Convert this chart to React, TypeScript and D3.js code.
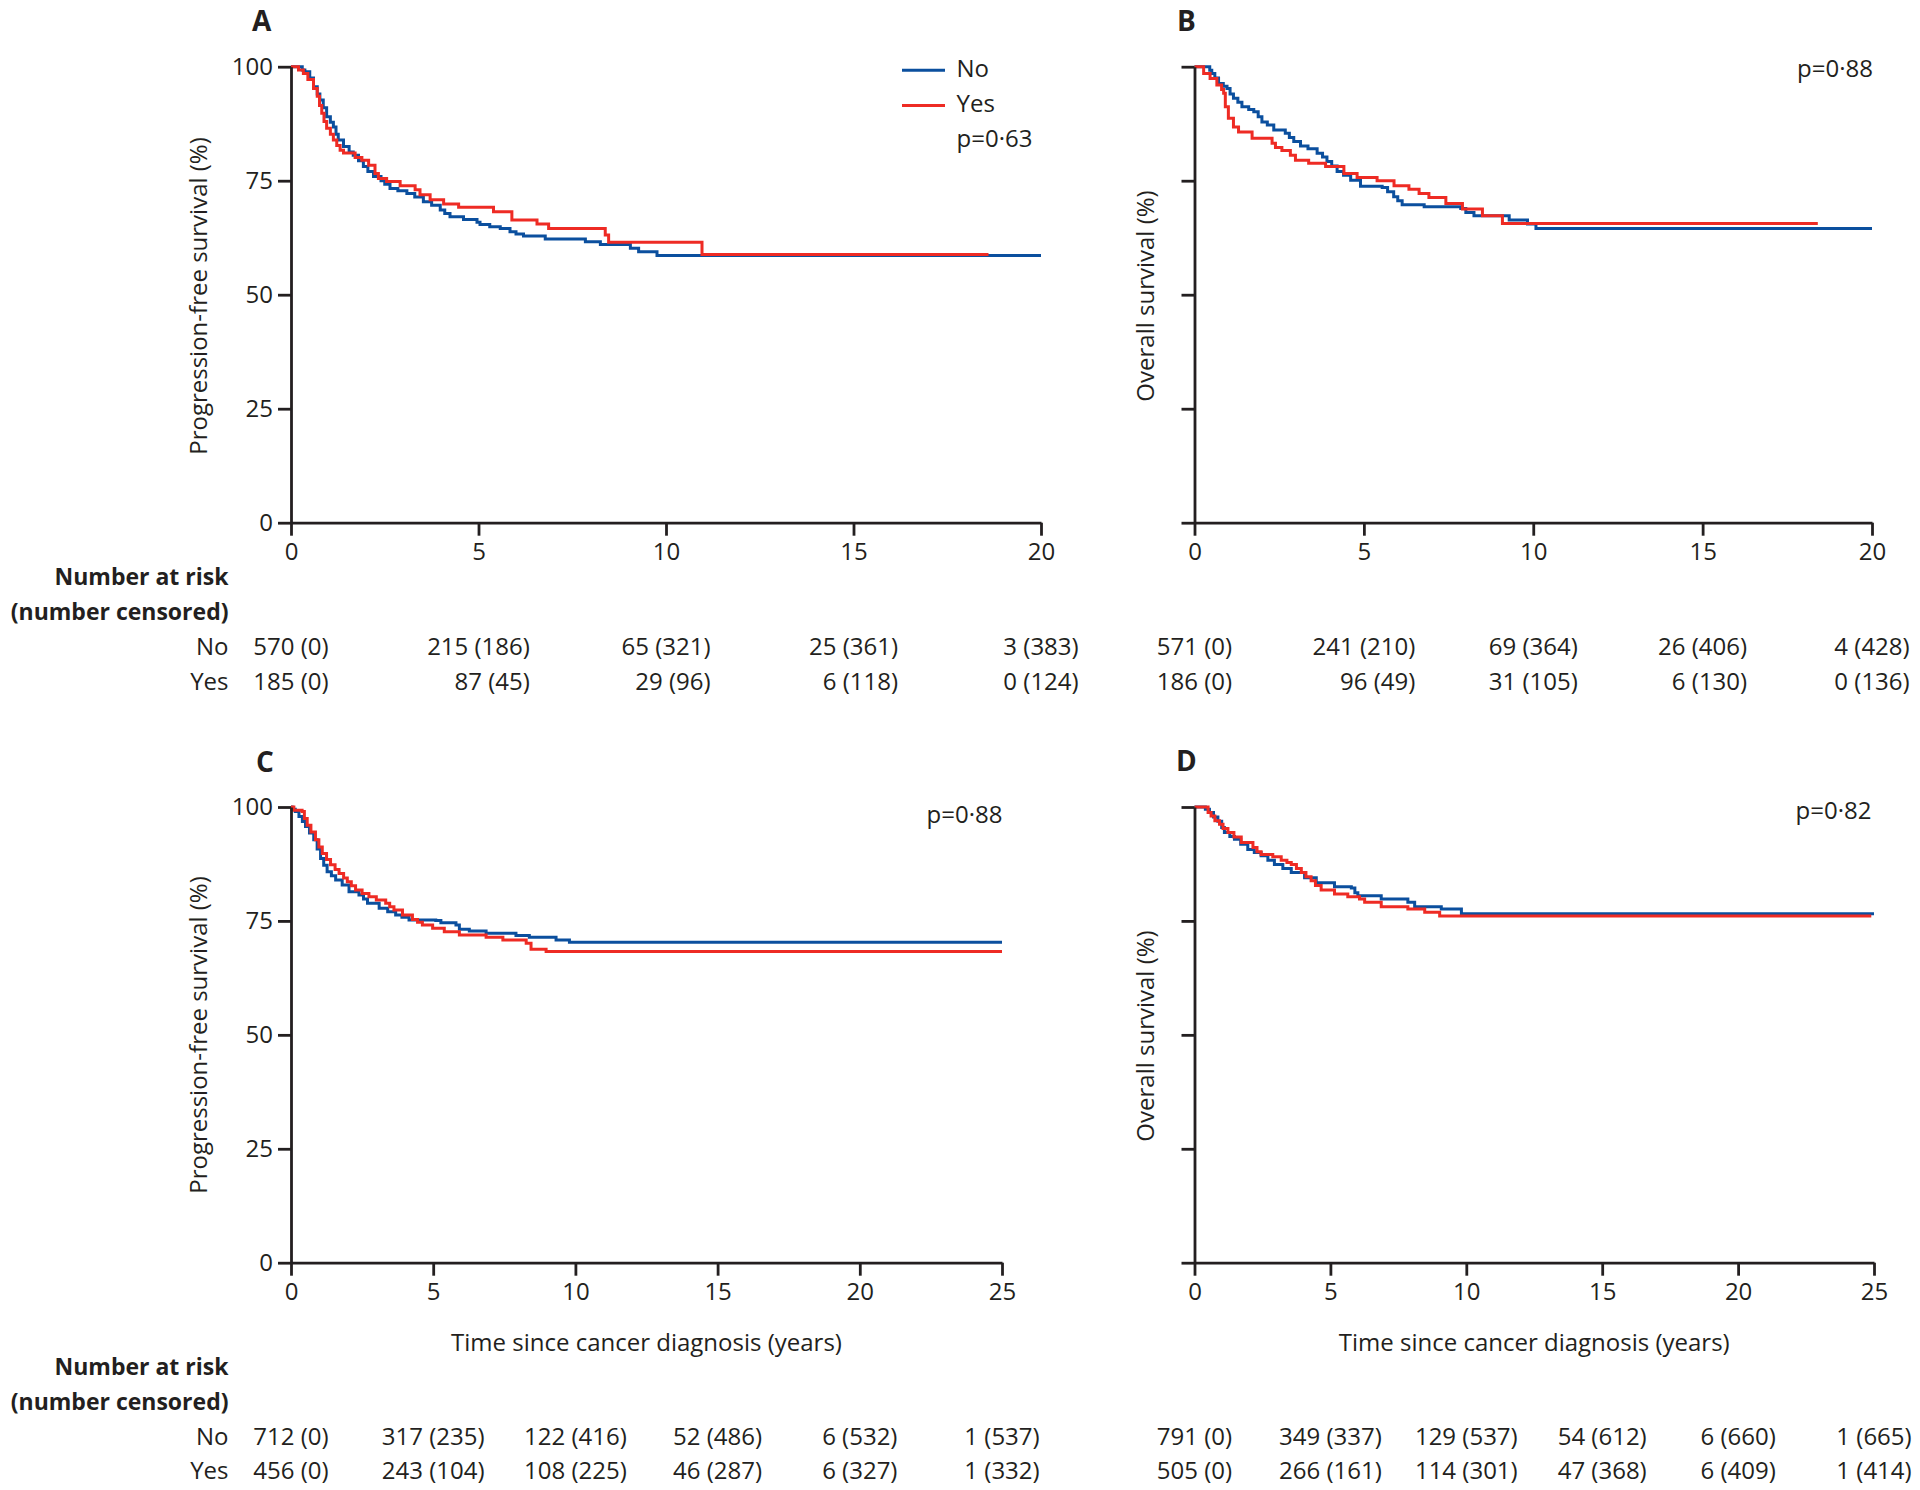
import React, { useEffect, useRef } from 'react';
import * as d3 from 'd3';

// ---------- data ----------
const GROUPS = ['No', 'Yes'];
const COLORS: Record<string, string> = { No: '#0b4f9e', Yes: '#ee2b24' };
const Y_TICKS = [0, 25, 50, 75, 100];
const X_TICKS_20 = [0, 5, 10, 15, 20];
const X_TICKS_25 = [0, 5, 10, 15, 20, 25];

// Kaplan-Meier curves: [years, survival %]
const A_NO = [[0,100],[0.15,100],[0.3,99.3],[0.37,98.9],[0.5,97.5],[0.6,95.6],[0.7,94.0],[0.77,92.7],[0.86,91],[0.95,89.0],[1.05,87.8],[1.13,86.8],[1.2,85.2],[1.26,83.9],[1.4,82.5],[1.55,81.3],[1.66,80.6],[1.8,79.4],[1.93,78.1],[2.05,77.0],[2.2,75.9],[2.4,75.0],[2.5,74.2],[2.64,73.3],[2.85,72.8],[3.09,72.2],[3.3,71.4],[3.53,70.4],[3.75,69.6],[3.98,68.6],[4.1,67.8],[4.24,67.1],[4.6,66.5],[4.96,65.9],[5.04,65.4],[5.3,64.9],[5.58,64.5],[5.84,63.8],[6.0,63.3],[6.2,62.9],[6.78,62.2],[7.85,61.6],[8.25,61.0],[9.05,60.2],[9.27,59.4],[9.76,58.6],[20,58.6]];
const A_YES = [[0,100],[0.1,100],[0.2,99.3],[0.33,98.5],[0.45,97.2],[0.6,95.2],[0.7,93.5],[0.76,91.5],[0.82,89.8],[0.88,88],[0.95,86.5],[1.05,85.2],[1.13,83.9],[1.22,82.7],[1.31,81.7],[1.4,81.1],[1.71,80.1],[1.89,79.5],[2.07,78.4],[2.24,76.6],[2.33,75.5],[2.55,74.8],[2.91,73.9],[3.31,73.0],[3.44,71.9],[3.71,70.8],[4.07,69.9],[4.47,69.2],[5.4,68.2],[5.89,66.4],[6.56,65.5],[6.87,64.5],[8.38,63.1],[8.47,61.5],[10.96,58.8],[18.6,58.8]];
const B_NO = [[0,100],[0.35,100],[0.45,99.2],[0.51,98.5],[0.6,97.5],[0.71,96.3],[0.85,95.7],[0.96,95.2],[1.05,94.0],[1.15,93.1],[1.28,92.2],[1.4,91.2],[1.6,90.6],[1.75,90.1],[1.88,89.0],[1.99,87.9],[2.15,87.2],[2.34,86.1],[2.68,85.4],[2.8,84.5],[2.93,83.6],[3.13,82.6],[3.35,82.0],[3.62,81.0],[3.78,80.2],[3.91,79.2],[4.05,78.2],[4.21,77.0],[4.4,76.2],[4.61,75.1],[4.9,73.8],[5.54,73.5],[5.7,72.6],[5.88,71.5],[6.0,70.6],[6.13,69.7],[6.78,69.3],[7.86,68.9],[8.01,68.0],[8.25,67.3],[9.29,66.4],[9.83,65.5],[10.08,64.5],[20,64.5]];
const B_YES = [[0,100],[0.2,100],[0.27,98.5],[0.46,97.4],[0.66,96.0],[0.8,95.0],[0.86,94.2],[0.91,91.2],[1.0,88.7],[1.15,86.8],[1.3,85.7],[1.7,84.3],[2.29,83.2],[2.39,82.3],[2.58,81.6],[2.83,80.6],[2.98,79.5],[3.37,78.8],[3.87,78.1],[4.41,76.6],[4.8,75.7],[5.39,75.0],[5.89,73.9],[6.33,73.1],[6.63,72.2],[6.92,71.3],[7.42,70.0],[7.91,68.8],[8.5,67.3],[9.09,65.6],[18.4,65.6]];
const C_NO = [[0,100],[0.04,99.5],[0.15,99],[0.28,97.9],[0.4,96.8],[0.51,95.7],[0.65,94.3],[0.8,92.8],[0.92,90.8],[1.04,88.7],[1.15,87.2],[1.27,85.8],[1.42,84.9],[1.57,84.0],[1.8,82.9],[2.04,81.4],[2.39,80.7],[2.55,79.8],[2.69,78.9],[3.1,77.8],[3.4,77.0],[3.68,76.3],[3.9,75.8],[4.15,75.2],[5.09,75.1],[5.27,74.6],[5.8,74.1],[5.92,73.2],[6.27,72.8],[6.86,72.3],[7.91,71.8],[8.38,71.4],[9.32,70.8],[9.79,70.3],[25,70.3]];
const C_YES = [[0,100],[0.1,99.3],[0.39,99.0],[0.47,97.5],[0.57,96.0],[0.7,94.5],[0.86,92.8],[0.98,91.2],[1.1,89.8],[1.25,88.5],[1.39,87.3],[1.55,86.3],[1.69,85.4],[1.85,84.4],[1.98,83.6],[2.12,82.7],[2.27,81.8],[2.5,81.0],[2.74,80.3],[3.0,79.6],[3.33,78.9],[3.47,78.1],[3.62,77.4],[3.92,76.3],[4.27,75.3],[4.45,74.7],[4.62,74.1],[4.98,73.4],[5.39,72.6],[5.92,71.9],[6.86,71.4],[7.45,70.8],[8.27,70.1],[8.44,68.8],[8.97,68.3],[25,68.3]];
const D_NO = [[0,100],[0.2,100],[0.4,99.5],[0.55,98.8],[0.7,97.8],[0.86,96.9],[1.0,95.5],[1.1,94.4],[1.3,93.5],[1.47,92.9],[1.7,91.8],[1.96,90.7],[2.2,90.0],[2.45,89.3],[2.7,88.3],[2.94,87.4],[3.25,86.5],[3.56,85.6],[4.05,84.5],[4.48,83.4],[5.15,82.5],[5.77,82.2],[5.9,81.2],[6.01,80.5],[6.87,79.8],[7.85,79.1],[8.1,78.1],[9.08,77.6],[9.82,76.6],[25,76.6]];
const D_YES = [[0,100],[0.35,100],[0.5,98.8],[0.61,98.0],[0.75,97.0],[0.92,96.2],[1.05,95.3],[1.23,94.4],[1.45,93.4],[1.72,92.2],[2.15,91.1],[2.3,90.2],[2.45,89.6],[2.88,89.1],[3.19,88.3],[3.4,87.8],[3.56,87.4],[3.75,86.5],[3.93,85.6],[4.1,84.7],[4.29,83.8],[4.45,82.8],[4.66,81.8],[5.15,80.9],[5.64,80.3],[6.07,79.8],[6.26,79.1],[6.87,78.1],[7.85,77.6],[8.47,76.9],[9.02,76.1],[24.9,76.1]];

// Number at risk (number censored)
const RISK_A_NO = ['570 (0)', '215 (186)', '65 (321)', '25 (361)', '3 (383)'];
const RISK_A_YES = ['185 (0)', '87 (45)', '29 (96)', '6 (118)', '0 (124)'];
const RISK_B_NO = ['571 (0)', '241 (210)', '69 (364)', '26 (406)', '4 (428)'];
const RISK_B_YES = ['186 (0)', '96 (49)', '31 (105)', '6 (130)', '0 (136)'];
const RISK_C_NO = ['712 (0)', '317 (235)', '122 (416)', '52 (486)', '6 (532)', '1 (537)'];
const RISK_C_YES = ['456 (0)', '243 (104)', '108 (225)', '46 (287)', '6 (327)', '1 (332)'];
const RISK_D_NO = ['791 (0)', '349 (337)', '129 (537)', '54 (612)', '6 (660)', '1 (665)'];
const RISK_D_YES = ['505 (0)', '266 (161)', '114 (301)', '47 (368)', '6 (409)', '1 (414)'];

const P_VALUES = ['p=0·63', 'p=0·88', 'p=0·88', 'p=0·82'];
const PANEL_LABELS = ['A', 'B', 'C', 'D'];
const Y_TITLES = ['Progression-free survival (%)', 'Overall survival (%)', 'Progression-free survival (%)', 'Overall survival (%)'];
const X_TITLE = 'Time since cancer diagnosis (years)';
const RISK_HEAD = ['Number at risk', '(number censored)'];

// ---------- layout ----------
const FONT = "'Open Sans', 'Noto Sans', sans-serif";
const INK = '#231f20';

const PANELS = [
  { i: 0, curves: [A_NO, A_YES], risk: [RISK_A_NO, RISK_A_YES], xMax: 20, xTicks: X_TICKS_20,
    left: 291, right: 1041, top: 66.7, bottom: 522.7, yLabels: true, legend: true, xTitle: false,
    labelPos: [252, 31], yTitlePos: [199, 296], pPos: [956.5, 139], pAnchor: 'start',
    tableY: [576.7, 611.7, 646.7, 681.7], rowHeads: true },
  { i: 1, curves: [B_NO, B_YES], risk: [RISK_B_NO, RISK_B_YES], xMax: 20, xTicks: X_TICKS_20,
    left: 1194.5, right: 1872, top: 66.7, bottom: 522.7, yLabels: false, legend: false, xTitle: false,
    labelPos: [1177, 31], yTitlePos: [1146, 296], pPos: [1873, 68.5], pAnchor: 'end',
    tableY: [576.7, 611.7, 646.7, 681.7], rowHeads: false },
  { i: 2, curves: [C_NO, C_YES], risk: [RISK_C_NO, RISK_C_YES], xMax: 25, xTicks: X_TICKS_25,
    left: 291, right: 1002, top: 807, bottom: 1262.7, yLabels: true, legend: false, xTitle: true,
    labelPos: [256, 772], yTitlePos: [199, 1035], pPos: [1002.5, 815], pAnchor: 'end',
    tableY: [1367, 1402, 1436.5, 1471], rowHeads: true },
  { i: 3, curves: [D_NO, D_YES], risk: [RISK_D_NO, RISK_D_YES], xMax: 25, xTicks: X_TICKS_25,
    left: 1194.5, right: 1874, top: 807, bottom: 1262.7, yLabels: false, legend: false, xTitle: true,
    labelPos: [1176, 771], yTitlePos: [1146, 1036], pPos: [1871.5, 811], pAnchor: 'end',
    tableY: [1367, 1402, 1436.5, 1471], rowHeads: false },
];

export default function App() {
  const ref = useRef<SVGSVGElement | null>(null);

  useEffect(() => {
    const svg = d3.select(ref.current);
    svg.selectAll('*').remove();

    PANELS.forEach((P) => {
      const g = svg.append('g');
      const x = d3.scaleLinear().domain([0, P.xMax]).range([P.left, P.right]);
      const y = d3.scaleLinear().domain([0, 100]).range([P.bottom, P.top]);

      // curves
      const line = d3.line<number[]>().x((d) => x(d[0])).y((d) => y(d[1])).curve(d3.curveStepAfter);
      P.curves.forEach((c, k) => {
        g.append('path').attr('d', line(c as number[][]) as string)
          .attr('fill', 'none').attr('stroke', COLORS[GROUPS[k]])
          .attr('stroke-width', 3).attr('stroke-linejoin', 'miter');
      });

      // y axis
      const yAxis = d3.axisLeft(y).tickValues(Y_TICKS).tickSize(13).tickPadding(5).tickSizeOuter(0)
        .tickFormat((d) => (P.yLabels ? String(d) : ''));
      const ya = g.append('g').attr('transform', `translate(${P.left},0)`).call(yAxis);
      // x axis
      const xAxis = d3.axisBottom(x).tickValues(P.xTicks).tickSize(13).tickPadding(7).tickSizeOuter(0)
        .tickFormat((d) => String(d));
      const xa = g.append('g').attr('transform', `translate(0,${P.bottom})`).call(xAxis);
      [ya, xa].forEach((a) => {
        a.select('.domain').attr('stroke', INK).attr('stroke-width', 2.8);
        a.selectAll('.tick line').attr('stroke', INK).attr('stroke-width', 2.8);
        a.selectAll('.tick text').attr('font-family', FONT).attr('font-size', 24).attr('fill', INK);
      });

      // panel label
      g.append('text').attr('x', P.labelPos[0]).attr('y', P.labelPos[1])
        .attr('font-family', FONT).attr('font-weight', 700).attr('font-size', 28).attr('fill', INK)
        .text(PANEL_LABELS[P.i]);

      // y title
      g.append('text').attr('transform', `translate(${P.yTitlePos[0]},${P.yTitlePos[1]}) rotate(-90)`)
        .attr('text-anchor', 'middle').attr('dy', '0.35em')
        .attr('font-family', FONT).attr('font-size', 24).attr('fill', INK)
        .text(Y_TITLES[P.i]);

      // x title
      if (P.xTitle) {
        g.append('text').attr('x', (P.left + P.right) / 2).attr('y', 1343).attr('dy', '0.35em')
          .attr('text-anchor', 'middle').attr('font-family', FONT).attr('font-size', 24).attr('fill', INK)
          .text(X_TITLE);
      }

      // legend
      if (P.legend) {
        GROUPS.forEach((grp, k) => {
          const ly = [70.3, 105.4][k];
          g.append('line').attr('x1', 902).attr('x2', 945).attr('y1', ly).attr('y2', ly)
            .attr('stroke', COLORS[grp]).attr('stroke-width', 3);
          g.append('text').attr('x', 956.5).attr('y', ly - 1.5).attr('dy', '0.35em')
            .attr('font-family', FONT).attr('font-size', 24).attr('fill', INK).text(grp);
        });
      }

      // p value
      g.append('text').attr('x', P.pPos[0]).attr('y', P.pPos[1]).attr('dy', '0.35em')
        .attr('text-anchor', P.pAnchor).attr('font-family', FONT).attr('font-size', 24).attr('fill', INK)
        .text(P_VALUES[P.i]);

      // number at risk table
      if (P.rowHeads) {
        RISK_HEAD.forEach((h, k) => {
          g.append('text').attr('x', 228.5).attr('y', P.tableY[k]).attr('dy', '0.35em')
            .attr('text-anchor', 'end').attr('font-family', FONT).attr('font-weight', 700)
            .attr('font-size', 23).attr('fill', INK).text(h);
        });
        GROUPS.forEach((grp, k) => {
          g.append('text').attr('x', 228.5).attr('y', P.tableY[2 + k]).attr('dy', '0.35em')
            .attr('text-anchor', 'end').attr('font-family', FONT)
            .attr('font-size', 24).attr('fill', INK).text(grp);
        });
      }
      P.xTicks.forEach((t, col) => {
        const texts = P.risk.map((row, k) =>
          g.append('text').attr('y', P.tableY[2 + k]).attr('dy', '0.35em')
            .attr('text-anchor', 'end').attr('font-family', FONT)
            .attr('font-size', 24).attr('fill', INK).text(row[col]));
        const maxW = d3.max(texts, (t2) => (t2.node() as SVGTextElement).getComputedTextLength()) || 0;
        texts.forEach((t2) => t2.attr('x', x(t) + maxW / 2));
      });
    });
  }, []);

  return (
    <svg ref={ref} width={1920} height={1490}
      style={{ position: 'absolute', left: 0, top: 0, background: '#fff' }} />
  );
}
